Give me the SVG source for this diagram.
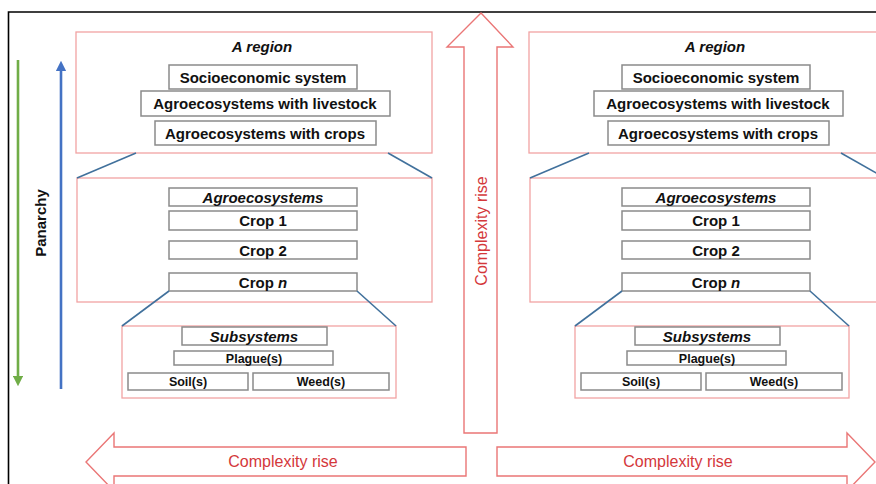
<svg xmlns="http://www.w3.org/2000/svg" width="876" height="484" viewBox="0 0 876 484">
  <style>
    .frame { fill: none; stroke: #000; stroke-width: 1.6; }
    .level { fill: #fff; stroke: #f2a3a3; stroke-width: 1.3; }
    .box { fill: #fff; stroke: #8a8a8a; stroke-width: 1.5; }
    .link { stroke: #41719c; stroke-width: 1.6; fill: none; }
    .big { fill: #fff; stroke: #ea7676; stroke-width: 1.4; stroke-linejoin: miter; }
    .t { font-family: "Liberation Sans", Arial, sans-serif; font-weight: bold; font-size: 15px; fill: #111; text-anchor: middle; }
    .ti { font-style: italic; }
    .ts { font-size: 12.5px; }
    .red { font-family: "Liberation Sans", Arial, sans-serif; font-size: 16px; fill: #d4383b; text-anchor: middle; }
  </style>
  <defs>
    <marker id="headGreen" viewBox="0 0 10 10" refX="5" refY="5" markerWidth="4" markerHeight="4" orient="auto">
      <path d="M0,0 L10,5 L0,10 z" fill="#70ad47"/>
    </marker>
    <marker id="headBlue" viewBox="0 0 10 10" refX="5" refY="5" markerWidth="4" markerHeight="4" orient="auto">
      <path d="M0,0 L10,5 L0,10 z" fill="#4472c4"/>
    </marker>
    <g id="block">
      <g id="region">
        <rect class="level" x="76" y="32" width="356" height="121"/>
        <text class="t ti" x="262" y="52">A region</text>
        <rect class="box" x="169" y="65" width="188" height="24"/>
        <text class="t" x="263" y="82.5">Socioeconomic system</text>
        <rect class="box" x="141" y="91" width="249" height="25"/>
        <text class="t" x="265" y="109">Agroecosystems with livestock</text>
        <rect class="box" x="155" y="121" width="221" height="24"/>
        <text class="t" x="265" y="138.5">Agroecosystems with crops</text>
      </g>
      <g id="agroecosystems">
        <rect class="level" x="77" y="178" width="355" height="124"/>
        <rect class="box" x="169" y="188" width="188" height="18"/>
        <text class="t ti" x="263" y="202.5">Agroecosystems</text>
        <rect class="box" x="169" y="211" width="188" height="19"/>
        <text class="t" x="263" y="226">Crop 1</text>
        <rect class="box" x="169" y="241" width="188" height="18"/>
        <text class="t" x="263" y="255.5">Crop 2</text>
        <rect class="box" x="169" y="273" width="188" height="18"/>
        <text class="t" x="263" y="287.5">Crop <tspan class="ti">n</tspan></text>
      </g>
      <g id="subsystems">
        <rect class="level" x="122" y="326" width="274" height="72"/>
        <rect class="box" x="182" y="327" width="145" height="18"/>
        <text class="t ti" x="254" y="341.5">Subsystems</text>
        <rect class="box" x="174" y="351" width="159" height="14"/>
        <text class="t ts" x="254" y="362.5">Plague(s)</text>
        <rect class="box" x="128" y="373" width="120" height="17"/>
        <text class="t ts" x="188" y="386">Soil(s)</text>
        <rect class="box" x="253" y="373" width="136" height="17"/>
        <text class="t ts" x="321" y="386">Weed(s)</text>
      </g>
      <!-- zoom lines linking each level to the one below -->
      <g id="connectors">
        <line class="link" x1="136" y1="153" x2="77" y2="178"/>
        <line class="link" x1="388" y1="153" x2="432" y2="178"/>
        <line class="link" x1="169" y1="291" x2="122" y2="326"/>
        <line class="link" x1="357" y1="291" x2="396" y2="326"/>
      </g>
    </g>
  </defs>

  <!-- outer frame -->
  <path class="frame" d="M876,12 H8.5 V484"/>

  <!-- panarchy scale -->
  <g id="panarchy">
    <line x1="18" y1="60" x2="18" y2="381" stroke="#70ad47" stroke-width="2.6" marker-end="url(#headGreen)"/>
    <line x1="61" y1="389" x2="61" y2="66" stroke="#4472c4" stroke-width="2.6" marker-end="url(#headBlue)"/>
    <text class="t" transform="translate(46,223) rotate(-90)">Panarchy</text>
  </g>

  <!-- left hierarchy -->
  <g id="left-hierarchy">
    <use href="#block"/>
  </g>

  <!-- right hierarchy, same levels shifted right -->
  <g id="right-hierarchy" transform="translate(453,0)">
    <use href="#block"/>
  </g>

  <!-- complexity arrows -->
  <g id="arrow-up">
    <polygon class="big" points="481,13 513,47 497,47 497,433 464,433 464,47 447,47"/>
    <text class="red" transform="translate(487,231) rotate(-90)">Complexity rise</text>
  </g>
  <g id="arrow-left">
    <polygon class="big" points="86,462 114,433 114,447 466,447 466,476 114,476 114,491"/>
    <text class="red" x="283" y="467">Complexity rise</text>
  </g>
  <g id="arrow-right">
    <polygon class="big" points="497,447 847,447 847,433 875,462 847,491 847,476 497,476"/>
    <text class="red" x="678" y="467">Complexity rise</text>
  </g>
</svg>
